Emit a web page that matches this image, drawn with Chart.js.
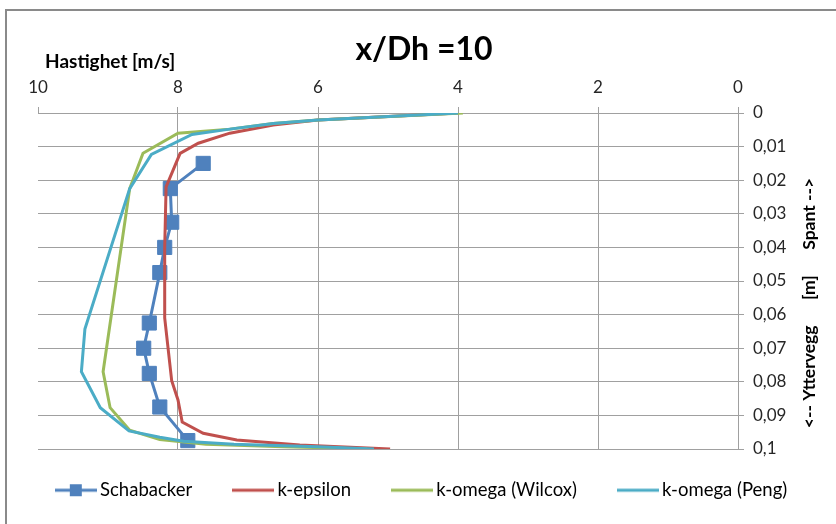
<!DOCTYPE html>
<html lang="no">
<head>
  <meta charset="UTF-8" />
  <title>x/Dh =10</title>
  <script src="https://cdn.jsdelivr.net/npm/chart.js"></script>
  <style>
    html, body { margin: 0; padding: 0; background: #fff; overflow: hidden; }
    .frame {
      position: absolute; left: 5px; top: 9px; width: 900px; height: 600px;
      border: 2px solid #8a8a8a;
    }
    .chart-wrapper { position: absolute; left: 0; top: 0; width: 836px; height: 524px; }
  </style>
</head>
<body>

<div class="frame"></div>
<div class="chart-wrapper">
  <canvas id="profileChart"></canvas>
</div>

<script>
  // tekster
  const chartTitle = "x/Dh =10";
  const speedTitle = "Hastighet [m/s]";
  const depthTitle = "<-- Yttervegg      [m]      Spant -->";
  const speedTicks = ["0", "2", "4", "6", "8", "10"];
  const depthTicks = ["0", "0,01", "0,02", "0,03", "0,04", "0,05", "0,06", "0,07", "0,08", "0,09", "0,1"];

  // målinger (Schabacker)
  const schabackerDepth = [0.015, 0.0225, 0.0325, 0.04, 0.0475, 0.0625, 0.07, 0.0775, 0.0875, 0.0975];
  const schabackerSpeed = [7.64, 8.11, 8.09, 8.19, 8.26, 8.41, 8.49, 8.41, 8.26, 7.86];

  // k-epsilon
  const kEpsDepth = [0, 0.0021, 0.0036, 0.006, 0.009, 0.012, 0.017, 0.022, 0.04, 0.061, 0.0797, 0.0854, 0.092, 0.0953, 0.0973, 0.0988, 0.1];
  const kEpsSpeed = [4.0, 6.0, 6.64, 7.26, 7.71, 7.97, 8.07, 8.17, 8.19, 8.19, 8.09, 8.0, 7.94, 7.64, 7.16, 6.26, 4.97];

  // k-omega (Wilcox)
  const wilcoxDepth = [0, 0.0021, 0.0031, 0.0048, 0.006, 0.012, 0.0225, 0.077, 0.0877, 0.0944, 0.0972, 0.0986, 0.0993, 0.1];
  const wilcoxSpeed = [3.93, 6.0, 6.64, 7.26, 8.0, 8.5, 8.69, 9.07, 8.97, 8.69, 8.26, 7.6, 6.5, 5.3];

  // k-omega (Peng)
  const pengDepth = [0, 0.0021, 0.0031, 0.0048, 0.0064, 0.0123, 0.0225, 0.0643, 0.077, 0.0877, 0.0946, 0.0965, 0.0977, 0.0986, 0.0993, 0.1];
  const pengSpeed = [4.0, 6.0, 6.64, 7.26, 7.80, 8.38, 8.69, 9.33, 9.38, 9.11, 8.70, 8.26, 7.92, 7.2, 6.0, 5.2];

  const seriesNames = ["Schabacker", "k-epsilon", "k-omega (Wilcox)", "k-omega (Peng)"];
  const seriesColors = ["#4f81bd", "#c0504d", "#9bbb59", "#4bacc6"];

  function toPoints(speed, depth) {
    return speed.map((v, i) => ({ x: v, y: depth[i] }));
  }

  // små legend-ikoner: linje (+ kvadrat for målingene)
  function legendIcon(color, withSquare) {
    const c = document.createElement("canvas");
    c.width = 42; c.height = 14;
    const g = c.getContext("2d");
    g.strokeStyle = color;
    g.lineWidth = 3;
    g.beginPath(); g.moveTo(0, 7); g.lineTo(42, 7); g.stroke();
    if (withSquare) { g.fillStyle = color; g.fillRect(15, 1, 12, 12); }
    return c;
  }
  const icons = seriesColors.map((c, i) => legendIcon(c, i === 0));

  const axisTitles = {
    id: "axisTitles",
    afterLayout(chart) {
      // legenden litt opp, som i originalen
      chart.legend.top -= 14;
      chart.legend.bottom -= 14;
    },
    afterDraw(chart) {
      const { ctx, chartArea } = chart;
      ctx.save();
      ctx.fillStyle = "#000";
      ctx.textBaseline = "middle";
      ctx.font = "bold 19px Lato";
      ctx.textAlign = "left";
      ctx.fillText(speedTitle, chartArea.left + 7, chartArea.top - 51);
      ctx.translate(chartArea.right + 71, (chartArea.top + chartArea.bottom) / 2 + 22);
      ctx.rotate(-Math.PI / 2);
      ctx.textAlign = "center";
      ctx.font = "bold 17.5px Lato";
      ctx.fillText(depthTitle, 0, 0);
      ctx.restore();
    }
  };

  Chart.defaults.font.family = "Lato";
  Chart.defaults.color = "#262626";

  const gridColor = "#a0a0a0";

  new Chart(document.getElementById("profileChart"), {
    type: "scatter",
    data: {
      datasets: [
        {
          label: seriesNames[0],
          data: toPoints(schabackerSpeed, schabackerDepth),
          showLine: true,
          borderColor: seriesColors[0],
          backgroundColor: seriesColors[0],
          borderWidth: 3,
          pointStyle: "rect",
          pointRadius: 10,
          pointBorderWidth: 1,
          order: 4
        },
        {
          label: seriesNames[1],
          data: toPoints(kEpsSpeed, kEpsDepth),
          showLine: true,
          borderColor: seriesColors[1],
          backgroundColor: seriesColors[1],
          borderWidth: 3,
          pointRadius: 0,
          order: 3
        },
        {
          label: seriesNames[2],
          data: toPoints(wilcoxSpeed, wilcoxDepth),
          showLine: true,
          borderColor: seriesColors[2],
          backgroundColor: seriesColors[2],
          borderWidth: 3,
          pointRadius: 0,
          order: 2
        },
        {
          label: seriesNames[3],
          data: toPoints(pengSpeed, pengDepth),
          showLine: true,
          borderColor: seriesColors[3],
          backgroundColor: seriesColors[3],
          borderWidth: 3,
          pointRadius: 0,
          order: 1
        }
      ]
    },
    options: {
      responsive: true,
      maintainAspectRatio: false,
      animation: false,
      devicePixelRatio: 1,
      layout: { padding: { left: 12, right: 0, top: 0, bottom: 0.5 } },
      plugins: {
        title: {
          display: true,
          text: chartTitle,
          color: "#000",
          font: { size: 32, weight: "bold" },
          padding: { top: 30, bottom: 0 }
        },
        legend: {
          position: "bottom",
          labels: {
            usePointStyle: true,
            pointStyleWidth: 30,
            padding: 46,
            color: "#000",
            font: { size: 18.5 },
            sort: (a, b) => a.datasetIndex - b.datasetIndex,
            generateLabels(chart) {
              const items = Chart.defaults.plugins.legend.labels.generateLabels(chart);
              items.forEach(it => { it.pointStyle = icons[it.datasetIndex]; });
              return items;
            }
          }
        },
        tooltip: { enabled: false }
      },
      scales: {
        x: {
          type: "linear",
          position: "top",
          reverse: true,
          min: 0,
          max: 10,
          afterFit: s => { s.height = 44.6; },
          ticks: {
            stepSize: 2,
            padding: 9,
            font: { size: 17 },
            callback: v => speedTicks[Math.round(v / 2)]
          },
          grid: {
            color: ctx => (ctx.tick && ctx.tick.value === 10) ? "rgba(0,0,0,0)" : gridColor,
            tickColor: gridColor,
            tickLength: 6
          },
          border: { color: gridColor }
        },
        y: {
          type: "linear",
          position: "right",
          reverse: true,
          min: 0,
          max: 0.1,
          afterFit: s => { s.width = 98; },
          ticks: {
            stepSize: 0.01,
            padding: 9,
            font: { size: 17 },
            callback: v => depthTicks[Math.round(v * 100)]
          },
          grid: {
            color: gridColor,
            tickColor: gridColor,
            tickLength: 6
          },
          border: { color: gridColor }
        },
        // tom plass til venstre for plotteområdet
        spacer: {
          type: "linear",
          position: "left",
          afterFit: s => { s.width = 26; },
          ticks: { display: false },
          grid: { display: false },
          border: { display: false }
        }
      }
    },
    plugins: [axisTitles]
  });
</script>
</body>
</html>
